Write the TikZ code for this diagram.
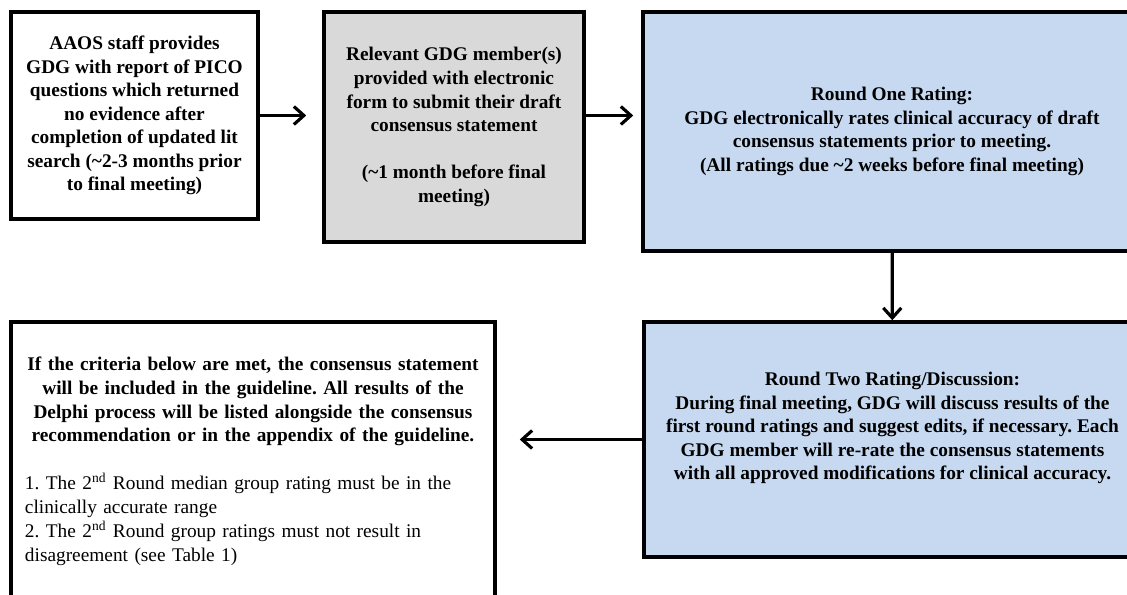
\documentclass[tikz,border=0pt]{standalone}
\usepackage{fontspec}
\setmainfont{Liberation Serif}
\usetikzlibrary{arrows.meta, positioning, calc}
\definecolor{fillBlue}{RGB}{198, 217, 240}
\definecolor{fillGray}{RGB}{217, 217, 217}
\frenchspacing

\begin{document}
\begin{tikzpicture}[
  box/.style={rectangle, draw=black, line width=2pt, align=center,
    inner sep=0pt, font=\fontsize{11}{13.4}\selectfont\bfseries},
  arr/.style={-{Straight Barb[length=2mm, width=3.6mm]}, line width=1.8pt},
]
\useasboundingbox (0,0) rectangle (22.54,11.88);
\node[box, minimum width=4.94cm, minimum height=4.14cm] (aaos) at (2.69, 9.57)
  {AAOS staff provides\\GDG with report of PICO\\questions which returned\\
   no evidence after\\completion of updated lit\\search (\textasciitilde2-3 months prior\\
   to final meeting)};
\node[box, fill=fillGray, minimum width=5.2cm, minimum height=4.6cm] (member) at (9.08, 9.34)
  {Relevant GDG member(s)\\provided with electronic\\form to submit their draft\\
   consensus statement\\[13.4pt](\textasciitilde1 month before final\\meeting)};
\node[box, fill=fillBlue, minimum width=9.96cm, minimum height=4.78cm] (round1) at (17.84, 9.25)
  {Round One Rating:\\GDG electronically rates clinical accuracy of draft\\
   consensus statements prior to meeting.\\(All ratings due \textasciitilde2 weeks before final meeting)};
\node[box, fill=fillBlue, minimum width=9.94cm, minimum height=4.7cm] (round2) at (17.85, 3.09)
  {Round Two Rating/Discussion:\\During final meeting, GDG will discuss results of the\\
   first round ratings and suggest edits, if necessary. Each\\
   GDG member will re-rate the consensus statements\\with all approved modifications for clinical accuracy.\\[2pt]};
\node[box, align=left, font=\fontsize{11}{13.6}\selectfont, text width=9.12cm,
  minimum width=9.68cm, minimum height=5.56cm] (criteria) at (5.06, 2.66)
  {{\centering\bfseries If the criteria below are met, the consensus statement\\
    will be included in the guideline. All results of the\\
    Delphi process will be listed alongside the consensus\\
    recommendation or in the appendix of the guideline.\par}
   \vspace{13.4pt}
   1. The 2\textsuperscript{nd} Round median group rating must be in the\\
   clinically accurate range\\
   2. The 2\textsuperscript{nd} Round group ratings must not result in\\
   disagreement (see Table 1)};
\draw[arr, shorten >=0.32cm] (aaos.east) -- (aaos.east -| member.west);
\draw[arr, shorten >=0.16cm] (member.east |- aaos.east) -- (round1.west |- aaos.east);
\draw[arr] (round1) -- (round2);
\draw[arr, shorten >=0.46cm] (round2.west) -- (round2.west -| criteria.east);
\end{tikzpicture}
\end{document}
